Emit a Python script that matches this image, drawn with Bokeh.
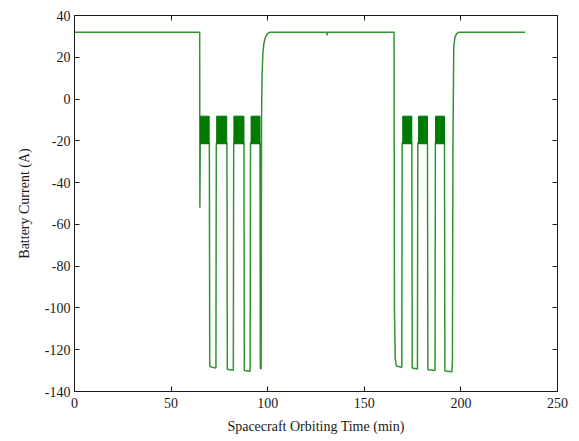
from bokeh.plotting import figure
from bokeh.models import (ColumnDataSource, LinearAxis, Range1d, FixedTicker,
                          CustomJSTickFormatter)
from bokeh.embed import file_html
from bokeh.resources import INLINE

# Battery current trace over two orbits (time in minutes, current in amperes)
time_min = [
    0, 64.8, 64.9, 65.1,
    69.8, 70.0, 73.2, 73.4,
    78.9, 79.1, 82.2, 82.4,
    87.7, 87.9, 90.9, 91.1,
    96.0, 96.2, 96.6, 96.8, 97.1, 97.5, 98.0, 98.8, 99.8, 101.0,
    130.6, 130.75, 130.9,
    165.4, 165.6, 166.0, 166.6, 169.4, 169.6,
    174.6, 174.8, 177.5, 177.7,
    182.7, 182.9, 186.6, 186.8,
    191.5, 191.7, 195.3, 195.6, 195.9, 196.3, 196.9, 197.8, 199.0,
    233.2,
]
current_a = [
    32, 32, -52, -21,
    -21, -128, -128.8, -21,
    -21, -129.3, -129.8, -21,
    -21, -130, -130.3, -21,
    -21, -129, -129.2, -10, 12, 22, 26.5, 29.5, 31.2, 32,
    32, 30.5, 32,
    32, -100, -124, -127.8, -128.4, -21,
    -21, -128.8, -129.2, -21,
    -21, -129.6, -130, -21,
    -21, -130.2, -130.6, -126, -20, 25, 29.5, 31.3, 32,
    32,
]

# Intervals of fast switching between the two partial-load levels
switch_start = [65.2, 73.6, 82.5, 91.4, 169.9, 178.1, 186.9]
switch_end = [69.7, 78.8, 87.7, 96.0, 174.6, 182.7, 191.5]
switch_low = [-21.4] * 7
switch_high = [-8.2] * 7

x_ticks = [0, 50, 100, 150, 200, 250]
y_ticks = [-140, -120, -100, -80, -60, -40, -20, 0, 20, 40]

FONT = "Liberation Serif"
INK = "#1a1a1a"
GREEN_LINE = "#2f932f"
GREEN_FILL = "#007a00"

p = figure(
    frame_width=483, frame_height=376,
    min_border_left=74, min_border_right=22, min_border_top=15, min_border_bottom=50,
    x_range=Range1d(0, 250), y_range=Range1d(-140, 40),
    output_backend="svg", toolbar_location=None,
    x_axis_label="Spacecraft Orbiting Time (min)",
    y_axis_label="Battery Current (A)",
)
p.grid.visible = False
p.outline_line_color = INK
p.outline_line_width = 1
p.background_fill_color = "white"
p.border_fill_color = "white"

trace = ColumnDataSource(dict(t=time_min, i=current_a))
p.line("t", "i", source=trace, line_color=GREEN_LINE, line_width=1.5)

blocks = ColumnDataSource(dict(left=switch_start, right=switch_end,
                               bottom=switch_low, top=switch_high))
p.quad(left="left", right="right", bottom="bottom", top="top", source=blocks,
       fill_color=GREEN_FILL, line_color=GREEN_FILL, line_width=1)

for ax in p.xaxis:
    ax.ticker = FixedTicker(ticks=x_ticks)
    ax.major_label_standoff = 6
    ax.axis_label_standoff = 8
for ax in p.yaxis:
    ax.ticker = FixedTicker(ticks=y_ticks)
    ax.major_label_standoff = 4
    ax.axis_label_standoff = 10
    # plain hyphen for negative numbers
    ax.major_label_overrides = {v: str(v) for v in y_ticks}

for ax in p.xaxis + p.yaxis:
    ax.major_tick_in = 5
    ax.major_tick_out = 0
    ax.minor_tick_in = 0
    ax.minor_tick_out = 0
    ax.axis_line_color = INK
    ax.major_tick_line_color = INK
    ax.major_label_text_font = FONT
    ax.major_label_text_font_size = "14px"
    ax.major_label_text_color = INK
    ax.axis_label_text_font = FONT
    ax.axis_label_text_font_size = "14px"
    ax.axis_label_text_font_style = "normal"
    ax.axis_label_text_color = INK

# Mirrored tick marks on the top and right edges of the box, without labels
blank = CustomJSTickFormatter(code="return '';")
top_axis = LinearAxis(ticker=FixedTicker(ticks=x_ticks), formatter=blank,
                      major_tick_in=5, major_tick_out=0, minor_tick_in=0, minor_tick_out=0,
                      major_label_standoff=0, axis_line_color=INK,
                      major_tick_line_color=INK)
right_axis = LinearAxis(ticker=FixedTicker(ticks=y_ticks), formatter=blank,
                        major_tick_in=5, major_tick_out=0, minor_tick_in=0, minor_tick_out=0,
                        major_label_standoff=0, axis_line_color=INK,
                        major_tick_line_color=INK)
p.add_layout(top_axis, "above")
p.add_layout(right_axis, "right")

open("out.html", "w").write(file_html(p, INLINE))
